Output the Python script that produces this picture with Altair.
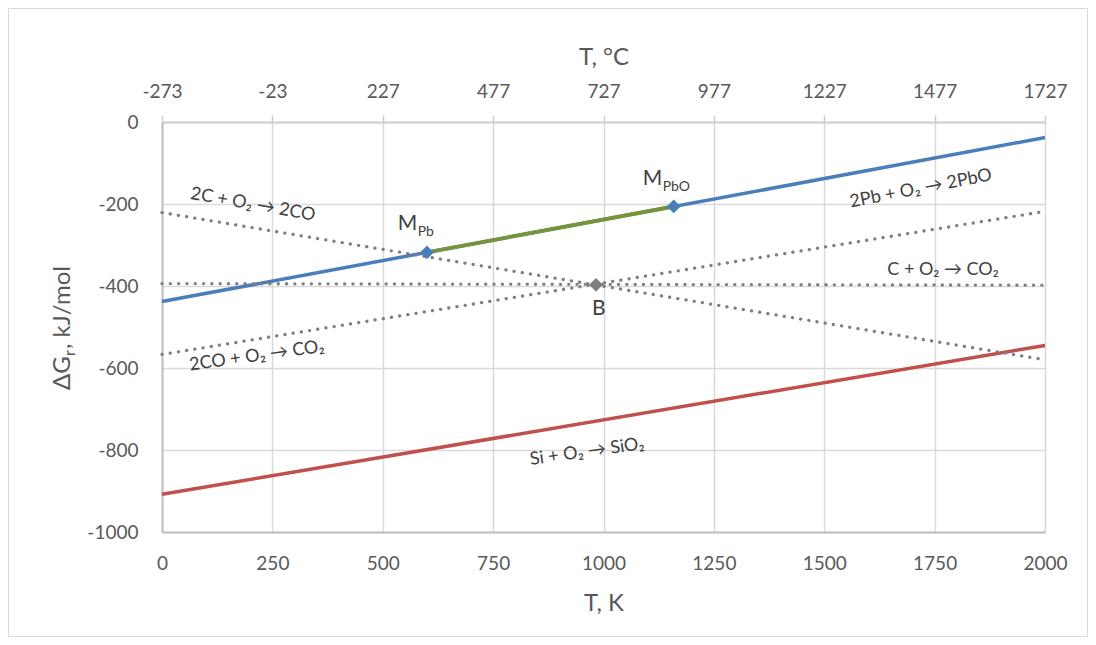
import altair as alt
import pandas as pd

# ---------------- data ----------------
T_ENDS = [0, 2000]
G_PB_PBO = [-438, -38]        # 2Pb + O2 -> 2PbO
G_SI_SIO2 = [-908, -545]      # Si + O2 -> SiO2
G_C_CO = [-221, -580]         # 2C + O2 -> 2CO
G_C_CO2 = [-394, -398]        # C + O2 -> CO2
G_CO_CO2 = [-567, -218]       # 2CO + O2 -> CO2

T_MELT = [600, 1159]          # green segment M_Pb -> M_PbO
G_MELT = [-318, -206]

PB_MARK_T = [600, 1159]       # M_Pb, M_PbO
PB_MARK_G = [-318, -206]
B_MARK_T = [983]
B_MARK_G = [-397]

LABELS = ["2C + O₂ → 2CO", "2Pb + O₂ → 2PbO", "C + O₂ → CO₂",
          "2CO + O₂ → CO₂", "Si + O₂ → SiO₂"]
LABEL_T = [206, 1719, 1769, 215, 963]
LABEL_G = [-202, -163, -361, -571, -805]
LABEL_ANGLE = [10, 349, 0, 352, 352]

M_TEXT = ["M", "M"]
M_T = [578, 1133]
M_G = [-263, -154]
SUB_TEXT = ["Pb", "PbO"]
SUB_T = [579, 1134]
SUB_G = [-278, -168]
B_TEXT = ["B"]
B_T = [974]
B_G = [-470]

X_TICKS = [0, 250, 500, 750, 1000, 1250, 1500, 1750, 2000]
Y_TICKS = [-1000, -800, -600, -400, -200, 0]

BLUE = "#4a7ebb"
RED = "#c0504d"
GREEN = "#77933c"
GRAY = "#7f7f7f"
TEXT = "#404040"
FONT = "Lato"

# ---------------- tables ----------------
solid_df = pd.DataFrame({
    "T": T_ENDS + T_ENDS,
    "G": G_PB_PBO + G_SI_SIO2,
    "s": ["pb"] * 2 + ["si"] * 2,
})
dot_df = pd.DataFrame({
    "T": T_ENDS * 3,
    "G": G_C_CO + G_C_CO2 + G_CO_CO2,
    "s": ["c_co"] * 2 + ["c_co2"] * 2 + ["co_co2"] * 2,
})
melt_df = pd.DataFrame({"T": T_MELT, "G": G_MELT})
pbm_df = pd.DataFrame({"T": PB_MARK_T, "G": PB_MARK_G})
bm_df = pd.DataFrame({"T": B_MARK_T, "G": B_MARK_G})
lab_df = pd.DataFrame({"T": LABEL_T, "G": LABEL_G, "t": LABELS, "a": LABEL_ANGLE})
m_df = pd.DataFrame({"T": M_T, "G": M_G, "t": M_TEXT})
sub_df = pd.DataFrame({"T": SUB_T, "G": SUB_G, "t": SUB_TEXT})
b_df = pd.DataFrame({"T": B_T, "G": B_G, "t": B_TEXT})
tick_df = pd.DataFrame({"T": X_TICKS})

xs = alt.Scale(domain=[0, 2000], nice=False, zero=False)
ys = alt.Scale(domain=[-1000, 0], nice=False, zero=False)

x_axis = alt.Axis(values=X_TICKS, title="T, K", grid=True, ticks=False, tickSize=0,
                  domain=True, domainColor="#bfbfbf", domainWidth=2, labelFlush=False,
                  labelExpr="'' + datum.value",
                  gridColor="#d9d9d9", gridWidth=1.5, labelPadding=22, titlePadding=18)
y_axis = alt.Axis(values=Y_TICKS, title="", grid=True, ticks=False, tickSize=0,
                  domain=True, domainColor="#bfbfbf", domainWidth=2,
                  labelExpr="'' + datum.value",
                  gridColor="#d9d9d9", gridWidth=1.5, labelPadding=24)

X = alt.X("T:Q", scale=xs, axis=x_axis)
Y = alt.Y("G:Q", scale=ys, axis=y_axis)
Xn = alt.X("T:Q", scale=xs)
Yn = alt.Y("G:Q", scale=ys)

solid = alt.Chart(solid_df).mark_line(strokeWidth=3.5).encode(
    x=X, y=Y,
    color=alt.Color("s:N", scale=alt.Scale(domain=["pb", "si"], range=[BLUE, RED]), legend=None),
)
dotted = alt.Chart(dot_df).mark_line(strokeWidth=3.3, strokeDash=[0.1, 8.2], strokeCap="round",
                                     color=GRAY).encode(x=Xn, y=Yn, detail="s:N")
green = alt.Chart(melt_df).mark_line(strokeWidth=4, color=GREEN).encode(x=Xn, y=Yn)
pb_marks = alt.Chart(pbm_df).mark_point(shape="diamond", filled=True, size=190, opacity=1,
                                        color=BLUE).encode(x=Xn, y=Yn)
b_mark = alt.Chart(bm_df).mark_point(shape="diamond", filled=True, size=190, opacity=1,
                                     color="#7f7f7f").encode(x=Xn, y=Yn)
labels = alt.Chart(lab_df).mark_text(font=FONT, fontSize=18, color=TEXT, baseline="middle",
                                     align="center").encode(
    x=Xn, y=Yn, text="t:N", angle=alt.Angle("a:Q", scale=None))

m_text = alt.Chart(m_df).mark_text(font=FONT, fontSize=21, color=TEXT, align="right",
                                   baseline="alphabetic").encode(x=Xn, y=Yn, text="t:N")
b_text = alt.Chart(b_df).mark_text(font=FONT, fontSize=21, color=TEXT, align="left",
                                   baseline="alphabetic").encode(x=Xn, y=Yn, text="t:N")
subs = alt.Chart(sub_df).mark_text(font=FONT, fontSize=14, color=TEXT, align="left",
                                   baseline="alphabetic").encode(x=Xn, y=Yn, text="t:N")

# y-axis title built from pieces (subscript r)
one = pd.DataFrame({"a": [0]})
yt1 = alt.Chart(one).mark_text(text="ΔG", font=FONT, fontSize=24, color="#595959", angle=270,
                               align="left", baseline="alphabetic").encode(
    x=alt.value(-92), y=alt.value(268))
yt2 = alt.Chart(one).mark_text(text="r", font=FONT, fontSize=16, color="#595959", angle=270,
                               align="left", baseline="alphabetic").encode(
    x=alt.value(-87), y=alt.value(234))
yt3 = alt.Chart(one).mark_text(text=", kJ/mol", font=FONT, fontSize=24, color="#595959", angle=270,
                               align="left", baseline="alphabetic").encode(
    x=alt.value(-92), y=alt.value(227))

border = alt.Chart(one).mark_rect(fillOpacity=0, stroke="#d9d9d9", strokeWidth=1).encode(
    x=alt.value(-153.5), x2=alt.value(925.5), y=alt.value(-113.5), y2=alt.value(514.5))

inner = alt.layer(solid, dotted, green, pb_marks, b_mark, labels, m_text, b_text, subs,
                  yt1, yt2, yt3, border)

top = alt.Chart(tick_df).mark_point(opacity=0).encode(
    x=alt.X("T:Q", scale=xs,
            axis=alt.Axis(orient="top", values=X_TICKS, labelExpr="'' + (datum.value - 273)",
                          title="T, °C", grid=False, ticks=True, tickSize=7, tickWidth=1.5,
                          labelFlush=False,
                          tickColor="#d0d0d0", domain=True, domainColor="#d0d0d0", domainWidth=2,
                          labelPadding=14, titlePadding=13))
)

chart = alt.layer(inner, top).resolve_scale(x="independent").properties(
    width=883, height=410,
    autosize=alt.AutoSizeParams(type="none"),
    padding={"left": 154, "top": 114, "right": 43, "bottom": 105},
).configure_axis(
    labelFont=FONT, labelFontSize=19, labelColor="#595959",
    titleFont=FONT, titleFontSize=24, titleColor="#595959", titleFontWeight="normal",
).configure_view(strokeWidth=0)

chart.save("out.html", embed_options={"renderer": "svg", "actions": False})
